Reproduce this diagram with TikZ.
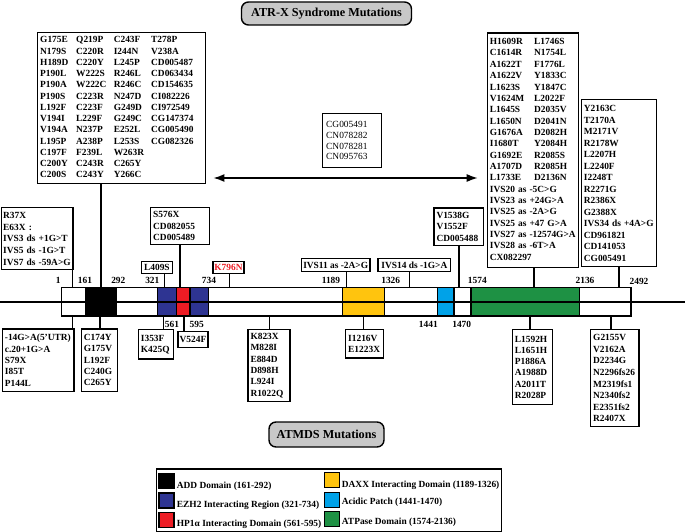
\documentclass[tikz,border=0pt]{standalone}
\usepackage{fontspec}
\setmainfont{Liberation Serif}
\usetikzlibrary{arrows.meta}
\definecolor{addc}{RGB}{0,0,0}
\definecolor{ezhc}{RGB}{46,52,146}
\definecolor{hpc}{RGB}{237,28,36}
\definecolor{daxc}{RGB}{255,196,14}
\definecolor{acic}{RGB}{0,162,232}
\definecolor{atpc}{RGB}{30,145,68}
\definecolor{titc}{RGB}{200,200,200}
\definecolor{kred}{RGB}{237,28,36}
\newcommand\mfs{\fontsize{9.4}{11.3}\selectfont\bfseries}
\setlength{\tabcolsep}{0pt}
\begin{document}
\begin{tikzpicture}[x=1pt,y=-1pt,
  mut/.style={draw, line width=1.4pt, fill=white, inner xsep=2.5pt, inner ysep=1pt, anchor=north west, align=left, font=\mfs},
  single/.style={draw, line width=1.4pt, fill=white, inner sep=0pt, anchor=north west, font=\mfs},
  conn/.style={line width=1.3pt},
  num/.style={font=\mfs, inner sep=0pt},
  title/.style={draw, line width=1.4pt, fill=titc, rounded corners=7pt, font=\fontsize{12.2}{14}\selectfont\bfseries, inner sep=0pt},
  dom/.style={draw, line width=1.4pt},
  lsq/.style={draw, line width=1.2pt, minimum size=15pt, inner sep=0pt, anchor=north west},
  ltxt/.style={font=\mfs, anchor=base west, inner sep=0pt},
  dbl/.style={line width=1.5pt, {Latex[length=11pt,width=8pt]}-{Latex[length=11pt,width=8pt]}}
]
\useasboundingbox (0,0) rectangle (685,532);
\fill[white] (0,0) rectangle (685,532);

% titles
\node[title, minimum width=170pt, minimum height=23pt] (t1) at (326.5,13.5) {ATR-X Syndrome Mutations};
\node[title, minimum width=115pt, minimum height=25pt] (t2) at (326.5,434.5) {ATMDS Mutations};

% protein bar
\node[draw, line width=1.4pt, minimum width=569.3pt, minimum height=28.7pt, inner sep=0pt, outer sep=0pt, anchor=north west] (bar) at (61.7,287.3) {};
\foreach \a/\b/\c in {86/116.7/addc, 157.7/208.3/ezhc, 176.7/190/hpc, 342.7/384.3/daxc, 437.3/454/acic, 471/579.3/atpc}
  \draw[dom, fill=\c] (\a,287.3) rectangle (\b,316);
\coordinate (ml) at (0,302);
\coordinate (mr) at (685,302);
\draw[line width=1.4pt] (ml) -- (mr);

% position numbers
\foreach \x/\t in {58.3/1, 85/161, 118.3/292, 152.3/321, 209/734, 331/1189, 390.7/1326, 477.3/1574, 585/2136}
  \node[num] at (\x,280.5) {\t};
\node[num] at (639,281.5) {2492};
\foreach \x/\t in {172/561, 196.7/595, 428.3/1441, 461.7/1470}
  \node[num] at (\x,324.5) {\t};

% ATR-X boxes
\node[mut, text width=163pt, minimum height=151pt, font={\fontsize{9.4}{11.25}\selectfont\bfseries}] (tl) at (37,32) {%
\begin{tabular}{@{}p{36pt}p{37.6pt}p{37.4pt}l@{}}
G175E & Q219P & C243F & T278P\\
N179S & C220R & I244N & V238A\\
H189D & C220Y & L245P & CD005487\\
P190L & W222S & R246L & CD063434\\
P190A & W222C & R246C & CD154635\\
P190S & C223R & N247D & CI082226\\
L192F & C223F & G249D & CI972549\\
V194I & L229F & G249C & CG147374\\
V194A & N237P & E252L & CG005490\\
L195P & A238P & L253S & CG082326\\
C197F & F239L & W263R & \\
C200Y & C243R & C265Y & \\
C200S & C243Y & Y266C &
\end{tabular}};

\node[mut, inner xsep=1.5pt, text width=68.3pt, minimum height=62pt, font={\fontsize{9.4}{11.7}\selectfont\bfseries}] (r37) at (1,207) {R37X\\E63X :\\IVS3 ds +1G>T\\IVS5 ds -1G>T\\IVS7~ds~-59A>G};

\node[mut, text width=52pt, minimum height=54pt, inner xsep=3.5pt, font={\fontsize{9.4}{10.7}\selectfont}] (mid) at (322,113) {CG005491\\CN078282\\CN078281\\CN095763};

\node[mut, text width=54pt, minimum height=37pt, font={\fontsize{9.4}{11.7}\selectfont\bfseries}] (s576) at (150,207) {S576X\\CD082055\\CD005489};
\node[single, minimum width=31pt, minimum height=11.7pt] (l409) at (140.7,261) {L409S};
\node[single, minimum width=31pt, minimum height=11.7pt, text=kred] (k796) at (212.3,261) {K796N};
\node[single, minimum width=68.6pt, minimum height=13.3pt] (ivs11) at (300.7,257.7) {IVS11 as -2A>G};
\node[single, minimum width=72.7pt, minimum height=13.3pt] (ivs14) at (377.3,257.7) {IVS14 ds -1G>A};
\node[mut, text width=44.4pt, minimum height=37.7pt, font={\fontsize{9.4}{11.8}\selectfont\bfseries}] (v1538) at (433.3,207.3) {V1538G\\V1552F\\CD005488};

\node[mut, text width=86pt, minimum height=234.4pt, font={\fontsize{9.4}{11.35}\selectfont\bfseries}] (r1) at (486.7,32.3) {%
\begin{tabular}{@{}p{44.3pt}l@{}}
H1609R & L1746S\\
C1614R & N1754L\\
A1622T & F1776L\\
A1622V & Y1833C\\
L1623S & Y1847C\\
V1624M & L2022F\\
L1645S & D2035V\\
L1650N & D2041N\\
G1676A & D2082H\\
I1680T & Y2084H\\
G1692E & R2085S\\
A1707D & R2085H\\
L1733E & D2136N\\
\multicolumn{2}{@{}l@{}}{IVS20 as -5C>G}\\
\multicolumn{2}{@{}l@{}}{IVS23 as +24G>A}\\
\multicolumn{2}{@{}l@{}}{IVS25 as -2A>G}\\
\multicolumn{2}{@{}l@{}}{IVS25 as +47 G>A}\\
\multicolumn{2}{@{}l@{}}{IVS27 as -12574G>A}\\
\multicolumn{2}{@{}l@{}}{IVS28 as -6T>A}\\
\multicolumn{2}{@{}l@{}}{CX082297}
\end{tabular}};

\node[mut, text width=70pt, minimum height=167pt, font={\fontsize{9.4}{11.5}\selectfont\bfseries}] (r2) at (580.7,99) {Y2163C\\T2170A\\M2171V\\R2178W\\L2207H\\L2240F\\I2248T\\R2271G\\R2386X\\G2388X\\IVS34 ds +4A>G\\CD961821\\CD141053\\CG005491};

% ATMDS boxes
\node[mut, text width=66.6pt, minimum height=62.4pt] (b14) at (1.7,328.3) {-14G>A(5'UTR)\\c.20+1G>A\\S79X\\I85T\\P144L};
\node[mut, text width=31pt, minimum height=62.4pt] (c174) at (80.7,328.3) {C174Y\\G175V\\L192F\\C240G\\C265Y};
\node[mut, text width=30pt, minimum height=29.3pt] (i353) at (137.7,329) {I353F\\K425Q};
\node[single, minimum width=30pt, minimum height=15.7pt] (v524) at (177.3,331) {V524F};
\node[mut, text width=37pt, minimum height=71.7pt] (k823) at (247.3,329) {K823X\\M828I\\E884D\\D898H\\L924I\\R1022Q};
\node[mut, text width=32.7pt, minimum height=28.3pt] (i1216) at (345,329) {I1216V\\E1223X};
\node[mut, text width=35pt, minimum height=75pt] (l1592) at (511.7,329) {L1592H\\L1651H\\P1886A\\A1988D\\A2011T\\R2028P};
\node[mut, text width=43.3pt, minimum height=97pt, font={\fontsize{9.4}{11.6}\selectfont\bfseries}] (g2155) at (590,329) {G2155V\\V2162A\\D2234G\\N2296fs26\\M2319fs1\\N2340fs2\\E2351fs2\\R2407X};

% connectors above the bar
\foreach \cx/\nm in {72.3/r37, 101/tl, 180/s576, 164.5/l409, 229.3/k796, 346.7/ivs11, 409.3/ivs14, 459/v1538, 534/r1, 619/r2}{
  \coordinate (c-\nm) at (\cx,0);
  \draw[conn] (c-\nm |- \nm.south) -- (c-\nm |- bar.north);
}
% connectors below the bar
\foreach \cx/\nm in {72.7/b14, 100/c174, 163.3/i353, 184/v524, 269.3/k823, 363.3/i1216, 530/l1592, 611/g2155}{
  \coordinate (d-\nm) at (\cx,0);
  \draw[conn] (d-\nm |- bar.south) -- (d-\nm |- \nm.north);
}

% double arrow
\coordinate (ay) at (0,178);
\draw[dbl, shorten <=7pt, shorten >=9pt] (tl.east |- ay) -- (r1.west |- ay);

% legend
\node[draw, line width=1.4pt, minimum width=344.7pt, minimum height=62.7pt, inner sep=0pt, anchor=north west] (leg) at (156,468.3) {};
\node[lsq, fill=addc] (k1) at (158.3,472.5) {};
\node[lsq, fill=ezhc] (k2) at (158.3,492.3) {};
\node[lsq, fill=hpc] (k3) at (158.3,511.7) {};
\node[lsq, fill=daxc] (k4) at (324,472) {};
\node[lsq, fill=acic] (k5) at (324,491.7) {};
\node[lsq, fill=atpc] (k6) at (324,510.5) {};
\node[ltxt] at (176.7,488.3) {ADD Domain (161-292)};
\node[ltxt] at (176.7,507.6) {EZH2 Interacting Region (321-734)};
\node[ltxt] at (176.7,526.6) {HP1α Interacting Domain (561-595)};
\node[ltxt] at (341.7,487.3) {DAXX Interacting Domain (1189-1326)};
\node[ltxt] at (341.7,504.3) {Acidic Patch (1441-1470)};
\node[ltxt] at (341.7,524.3) {ATPase Domain (1574-2136)};
\end{tikzpicture}
\end{document}
